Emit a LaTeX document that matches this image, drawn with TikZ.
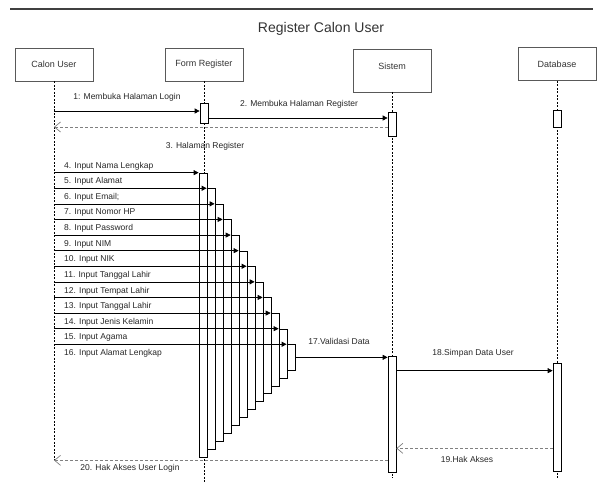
\documentclass[tikz,border=0pt]{standalone}
\usepackage{fontspec}
\setmainfont{Liberation Sans}
\usetikzlibrary{arrows.meta}

\tikzset{
  actortext/.style={font=\fontsize{9}{11}\selectfont, text=black!80},
  actor/.style={draw=black!65, line width=0.8pt, minimum width=78pt, minimum height=33pt, actortext},
  lifeline/.style={line width=0.7pt, dash pattern=on 2pt off 1.5pt},
  act/.style={draw, fill=white, line width=0.7pt, inner sep=0pt, minimum width=8pt},
  msg/.style={line width=0.7pt, -{Triangle[length=5pt,width=5pt]}},
  reply/.style={draw=black!50, line width=0.7pt, dash pattern=on 3pt off 2pt, -{Straight Barb[length=6pt,width=10pt]}},
  txt/.style={font=\fontsize{8.5}{10}\selectfont, text=black!85, inner sep=0pt},
}

\begin{document}
\begin{tikzpicture}[x=1pt, y=-1pt]
  \useasboundingbox (0,0) rectangle (603,482);
  \coordinate (rulel) at (10,9);
  \coordinate (ruler) at (593,9);
  \draw[black!75, line width=1.2pt] (rulel) -- (ruler);
  \node[font=\fontsize{14}{16}\selectfont, text=black!80] (title) at (321,29) {Register Calon User};

  % heads of the lifelines
  \node[actor] (cu) at (54,64.5) {Calon User};
  \node[actor] (fr) at (204,64.5) {Form Register};
  \node[actor, minimum height=43pt, label={[actortext, yshift=4pt]center:Sistem}] (si) at (392,70.5) {};
  \node[actor] (db) at (557,64) {Database};

  \coordinate (cuend) at (54,460);
  \coordinate (frend) at (204,482);
  \coordinate (siend) at (392,478);
  \coordinate (dbend) at (557,478);
  \draw[lifeline] (cu.south) -- (cuend);
  \draw[lifeline] (fr.south) -- (frend);
  \draw[lifeline] (si.south) -- (siend);
  \draw[lifeline] (db.south) -- (dbend);

  % activations
  \node[act, minimum height=20pt] (fr1) at (204,113) {};
  \node[act, minimum height=24pt] (si1) at (392,124) {};
  \node[act, minimum height=17pt] (db1) at (557,118.5) {};
  \node[act, minimum height=116pt] (si2) at (392,414) {};
  \node[act, minimum height=108pt] (db2) at (557,417) {};

  \foreach \k in {0,...,11} {
    \pgfmathsetmacro\sx{203+8*\k}
    \pgfmathsetmacro\ytop{173+15.6*\k}
    \pgfmathsetmacro\ybot{457-7.9*\k}
    \node[act, minimum height={\ybot-\ytop}] (s\k) at (\sx, {(\ytop+\ybot)/2}) {};
  }

  % messages
  \coordinate (m1) at ([yshift=2pt]fr1.west);
  \draw[msg] (cu.south |- m1) -- (m1);
  \node[txt] (l1) at (127,97) {1: Membuka Halaman Login};
  \coordinate (m2) at ([yshift=-5pt]fr1.east);
  \draw[msg] (m2) -- (si1.west |- m2);
  \node[txt] (l2) at (299,104) {2. Membuka Halaman Register};
  \coordinate (m3) at ([yshift=-3pt]si1.west);
  \draw[reply] (m3) -- (cu.south |- m3);
  \node[txt] (l3) at (205,146) {3. Halaman Register};

  \foreach \k in {0,...,11} {
    \draw[msg] (cu.south |- s\k.north west) -- (s\k.north west);
  }
  \foreach \k/\t in {0/4. Input Nama Lengkap, 1/5. Input Alamat, 2/6. Input Email;,
      3/7. Input Nomor HP, 4/8. Input Password, 5/9. Input NIM, 6/10. Input NIK,
      7/11. Input Tanggal Lahir, 8/12. Input Tempat Lahir, 9/13. Input Tanggal Lahir,
      10/14. Input Jenis Kelamin, 11/15. Input Agama, 12/16. Input Alamat Lengkap} {
    \node[txt, anchor=west] (in\k) at (64, {166+15.6*\k}) {\t};
  }

  \draw[msg] (s11.east) -- (si2.west |- s11.east);
  \node[txt] (l17) at (339,341) {17.Validasi Data};
  \coordinate (m18) at ([yshift=-15pt]si2.north east);
  \draw[msg] (m18) -- (db2.west |- m18);
  \node[txt] (l18) at (473,353) {18.Simpan Data User};
  \coordinate (m19) at ([yshift=23pt]db2.south west);
  \draw[reply] (m19) -- (si2.east |- m19);
  \node[txt] (l19) at (467,459) {19.Hak Akses};
  \coordinate (m20) at ([yshift=12pt]si2.south west);
  \draw[reply] (m20) -- (cu.south |- m20);
  \node[txt] (l20) at (130,468) {20. Hak Akses User Login};
\end{tikzpicture}
\end{document}
